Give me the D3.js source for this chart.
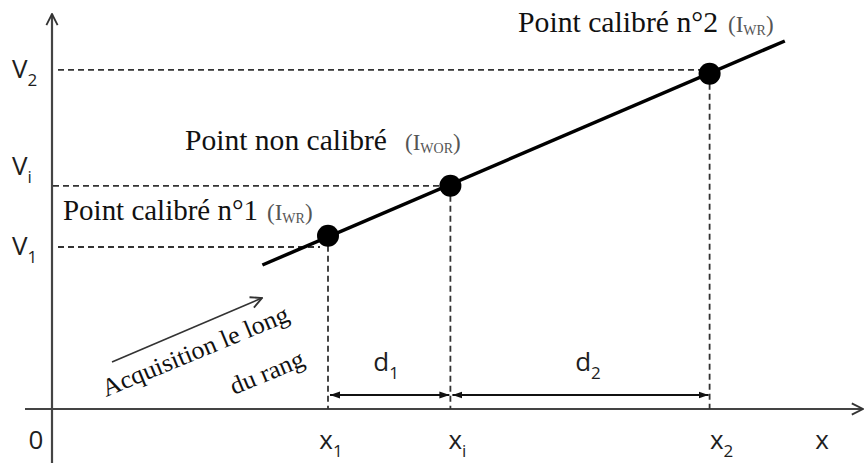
<!DOCTYPE html>
<html lang="fr">
<head>
<meta charset="utf-8">
<title>Interpolation</title>
<style>
  body { margin: 0; background: #fff; }
  .sans { font-family: "Open Sans", "DejaVu Sans", sans-serif; fill: #1e1e1e; }
  .serif { font-family: "Liberation Serif", "DejaVu Serif", serif; fill: #111; }
  .grey { font-family: "Liberation Serif", "DejaVu Serif", serif; fill: #555; }
</style>
</head>
<body>
<svg id="chart" width="865" height="463"></svg>
<script src="https://cdn.jsdelivr.net/npm/d3@7"></script>
<script>
// calibrated / non calibrated points along the row (axis units)
const pointNames = ["x1", "xi", "x2"];
const pointX = [3.45, 4.98, 8.22];
const pointY = [4.33, 5.58, 8.38];
// level of each dashed V line
const vNames = ["V1", "Vi", "V2"];
const vLevels = [4.05, 5.58, 8.48];
// fitted line end points
const lineX = [2.63, 9.16];
const lineY = [3.6, 9.2];

const svg = d3.select("#chart");
const x = d3.scaleLinear().domain([0, 10]).range([52, 852]);
const y = d3.scaleLinear().domain([0, 10]).range([409, 9]);

const defs = svg.append("defs");
defs.append("marker")
    .attr("id", "head")
    .attr("viewBox", "0 0 10 10").attr("refX", 10).attr("refY", 5)
    .attr("markerWidth", 10).attr("markerHeight", 10)
    .attr("markerUnits", "userSpaceOnUse")
    .attr("orient", "auto-start-reverse")
  .append("path").attr("d", "M0,1.5L10,5L0,8.5Z").attr("fill", "#111");
defs.append("marker")
    .attr("id", "open")
    .attr("viewBox", "0 0 10 10").attr("refX", 9).attr("refY", 5)
    .attr("markerWidth", 14).attr("markerHeight", 14)
    .attr("markerUnits", "userSpaceOnUse")
    .attr("orient", "auto")
  .append("path").attr("d", "M1,1L9,5L1,9").attr("fill", "none")
    .attr("stroke", "#333").attr("stroke-width", 1.3);

// axes
svg.append("line")
    .attr("x1", x(0)).attr("x2", x(0)).attr("y1", 463).attr("y2", 14)
    .attr("stroke", "#444").attr("stroke-width", 2.2).attr("marker-end", "url(#open)");
svg.append("line")
    .attr("x1", 25).attr("x2", 863).attr("y1", y(0)).attr("y2", y(0))
    .attr("stroke", "#444").attr("stroke-width", 2.2).attr("marker-end", "url(#open)");

// dashed guides
svg.append("g").selectAll("line").data(vLevels).join("line")
    .attr("x1", (d, i) => x(0) + (i === 1 ? 1 : 6)).attr("x2", (d, i) => x(pointX[i]) - 8)
    .attr("y1", d => y(d)).attr("y2", d => y(d))
    .attr("stroke", "#333").attr("stroke-width", 1.8).attr("stroke-dasharray", "6,4");
svg.append("g").selectAll("line").data(pointX).join("line")
    .attr("x1", d => x(d)).attr("x2", d => x(d))
    .attr("y1", (d, i) => y(pointY[i])).attr("y2", y(0))
    .attr("stroke", "#333").attr("stroke-width", 1.8).attr("stroke-dasharray", "6,4");

// fitted line and points
svg.append("line")
    .attr("x1", x(lineX[0])).attr("y1", y(lineY[0]))
    .attr("x2", x(lineX[1])).attr("y2", y(lineY[1]))
    .attr("stroke", "#000").attr("stroke-width", 3.5);
svg.append("g").selectAll("circle").data(pointX).join("circle")
    .attr("cx", d => x(d)).attr("cy", (d, i) => y(pointY[i]))
    .attr("r", 11).attr("fill", "#000");

// labels with subscript
function subLabel(px, py, base, sub, anchor) {
  const t = svg.append("text").attr("class", "sans")
      .attr("x", px).attr("y", py).attr("font-size", 26).attr("text-anchor", anchor || "middle");
  t.append("tspan").text(base);
  if (sub) t.append("tspan").attr("font-size", 17).attr("dy", 8).text(sub);
}

// distance arrows d1, d2
const dy = y(0) - 14;
[[0, 1], [1, 2]].forEach(([a, b], k) => {
  svg.append("line")
      .attr("x1", x(pointX[a]) + 2).attr("x2", x(pointX[b]) - 1)
      .attr("y1", dy).attr("y2", dy)
      .attr("stroke", "#111").attr("stroke-width", 2)
      .attr("marker-start", "url(#head)").attr("marker-end", "url(#head)");
  subLabel((x(pointX[a]) + x(pointX[b])) / 2 + (k ? 8 : -3), dy - 24, "d", String(k + 1));
});

// axis labels
pointNames.forEach((n, i) => subLabel(x(pointX[i]) + [3, 7, 12][i], 449, n[0], n.slice(1)));
subLabel(822, 449, "x");
subLabel(36, 449, "0");
vNames.forEach((n, i) => subLabel(12, y(vLevels[i]) + [8, -11, 8][i], n[0], n.slice(1), "start"));

// serif annotations
function note(px, py, len, main, gx, sub) {
  svg.append("text").attr("class", "serif")
      .attr("x", px).attr("y", py).attr("font-size", 29)
      .attr("textLength", len).attr("lengthAdjust", "spacingAndGlyphs")
      .text(main);
  const t = svg.append("text").attr("class", "grey")
      .attr("x", gx).attr("y", py).attr("font-size", 23);
  t.append("tspan").text("(I");
  t.append("tspan").attr("font-size", 14).attr("dy", 3).text(sub);
  t.append("tspan").attr("dy", -3).text(")");
}
note(518, 32, 200, "Point calibré n°2", 728, "WR");
note(185, 150, 202, "Point non calibré", 405, "WOR");
note(63, 220, 195, "Point calibré n°1", 267, "WR");

// acquisition arrow and text
svg.append("line")
    .attr("x1", 112).attr("y1", 362).attr("x2", 262).attr("y2", 298)
    .attr("stroke", "#333").attr("stroke-width", 1.6).attr("marker-end", "url(#open)");
svg.append("text").attr("class", "serif")
    .attr("transform", "translate(106,397) rotate(-22.5)")
    .attr("font-size", 25).attr("textLength", 200).attr("lengthAdjust", "spacingAndGlyphs")
    .text("Acquisition le long");
svg.append("text").attr("class", "serif")
    .attr("transform", "translate(234,395) rotate(-22.5)")
    .attr("font-size", 25).attr("textLength", 78).attr("lengthAdjust", "spacingAndGlyphs")
    .text("du rang");
</script>
</body>
</html>
